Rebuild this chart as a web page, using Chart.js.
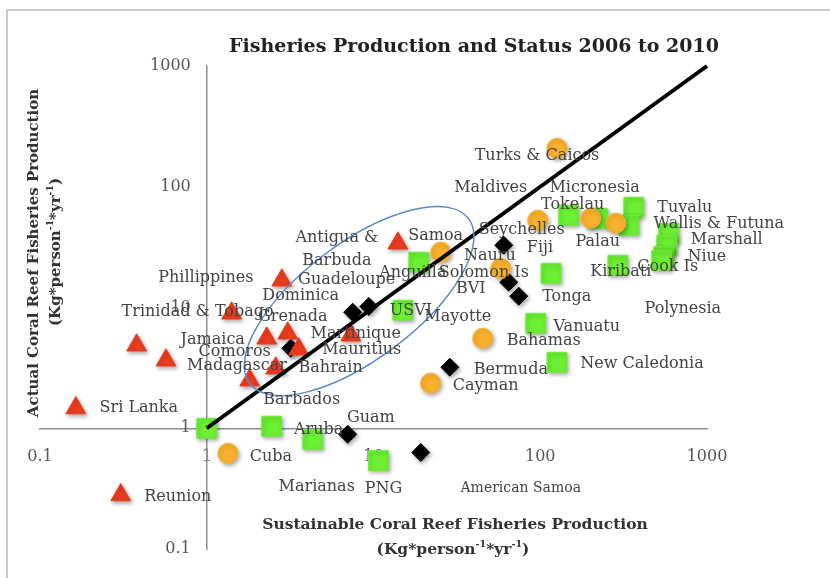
<!DOCTYPE html>
<html>
<head>
<meta charset="utf-8">
<title>Fisheries Production and Status 2006 to 2010</title>
<script src="https://cdn.jsdelivr.net/npm/chart.js@4.4.1/dist/chart.umd.min.js"></script>
<style>
  html, body { margin: 0; padding: 0; background: #fff; overflow: hidden; }
  #frame {
    position: absolute; left: 6px; top: 9px; width: 840px; height: 600px;
    border-left: 2px solid #cacaca; border-top: 2px solid #cacaca;
  }
  #wrap { position: absolute; left: 0; top: 0; width: 830px; height: 578px; }
</style>
</head>
<body>
<div id="frame"></div>
<div id="wrap"><canvas id="fisheryChart" width="830" height="578"></canvas></div>
<script>
// Sustainable (x) vs actual (y) coral reef fisheries production, kg/person/yr
var redNames = ['Sri Lanka', 'Reunion', 'Comoros', 'Madagascar', 'Trinidad & Tobago', 'Phillippines',
    'Jamaica', 'Grenada', 'Dominica', 'Bahrain', 'Barbados', 'Martinique', 'Antigua &\nBarbuda'];
var redX = [0.164, 0.305, 0.38, 0.57, 1.41, 2.82, 2.29, 3.06, 3.56, 2.59, 1.81, 7.31, 14.0];
var redY = [1.47, 0.28, 4.87, 3.66, 8.96, 16.8, 5.56, 6.12, 4.51, 3.14, 2.50, 5.89, 34.0];

var orangeNames = ['Turks & Caicos', 'Maldives', 'Palau', 'Nauru', 'Samoa', 'Solomon Is',
    'Bahamas', 'Cayman', 'Cuba'];
var orangeX = [126, 96.6, 201, 284, 25.3, 58.0, 45.2, 22.0, 1.34];
var orangeY = [208, 52.8, 54.8, 49.9, 28.7, 21.1, 5.56, 2.36, 0.62];

var greenNames = ['Tokelau', 'Micronesia', 'Tuvalu', 'Wallis & Futuna', 'Marshall', 'Polynesia',
    'Niue', 'Cook Is', 'Kiribati', 'Fiji', 'Vanuatu', 'New Caledonia', 'USVI', 'Anguilla', '',
    'Aruba', 'Marianas', 'PNG'];
var greenX = [148, 221, 364, 340, 590, 574, 551, 535, 292, 116, 94.0, 126, 15.0, 18.7, 1.0, 2.45, 4.32, 10.7];
var greenY = [58.1, 54.8, 67.6, 48.0, 41.2, 32.8, 26.6, 24.6, 22.4, 19.2, 7.41, 3.52, 9.49, 23.7, 1.0, 1.04, 0.81, 0.54];

var blackNames = ['Mauritius', 'Guadeloupe', 'Mayotte', 'Bermuda', 'Guam', 'American Samoa',
    'Seychelles', 'BVI', 'Tonga'];
var blackX = [3.19, 7.5, 9.37, 28.7, 7.01, 19.2, 60.4, 64.7, 74.3];
var blackY = [4.60, 9.14, 10.2, 3.20, 0.89, 0.63, 32.8, 16.2, 12.4];

// 1:1 line, actual = sustainable
var parityX = [1, 1000];
var parityY = [1, 1000];

var tickValues = [0.1, 1, 10, 100, 1000];
var tickLabels = ['0.1', '1', '10', '100', '1000'];

// centre of the highlighted cluster (data units)
var clusterCentre = [8.2, 11.3];

// where each name sits relative to its marker, in px
var labelOffsets = {
    'Sri Lanka': [63, 0], 'Reunion': [57, 2], 'Comoros': [98, 7], 'Madagascar': [71, 6],
    'Trinidad & Tobago': [-34, -1], 'Phillippines': [-76, -2], 'Jamaica': [-54, 2],
    'Grenada': [5, -16], 'Dominica': [2, -53], 'Bahrain': [55, 0], 'Barbados': [52, 20],
    'Martinique': [5, -1], 'Antigua &\nBarbuda': [-61, 6],
    'Turks & Caicos': [-20, 7], 'Maldives': [-47, -32], 'Palau': [7, 24], 'Nauru': [-126, 33],
    'Samoa': [-5, -16], 'Solomon Is': [-17, 5], 'Bahamas': [61, 3], 'Cayman': [55, 3], 'Cuba': [43, 4],
    'Tokelau': [4, -10], 'Micronesia': [-3, -30], 'Tuvalu': [51, 1], 'Wallis & Futuna': [90, -1],
    'Marshall': [58, 7], 'Polynesia': [16, 64], 'Niue': [43, 1], 'Cook Is': [6, 7], 'Kiribati': [3, 7],
    'Fiji': [-11, -25], 'Vanuatu': [51, 4], 'New Caledonia': [85, 2], 'USVI': [8, 1],
    'Anguilla': [-6, 11], 'Aruba': [47, 4], 'Marianas': [4, 48], 'PNG': [5, 28],
    'Mauritius': [71, 2], 'Guadeloupe': [-6, -32], 'Mayotte': [89, 10], 'Bermuda': [61, 3],
    'Guam': [23, -17], 'American Samoa': [100, 36], 'Seychelles': [18, -15], 'BVI': [-38, 7],
    'Tonga': [48, 1]
};
var smallLabels = { 'American Samoa': true };

function points(xs, ys) {
    return xs.map(function (x, i) { return { x: x, y: ys[i] }; });
}

var SERIF = '"DejaVu Serif", "Liberation Serif", serif';

// draws text made of normal and superscript pieces, centred on x
function drawRuns(ctx, runs, x, y, size) {
    var total = 0;
    runs.forEach(function (r) {
        ctx.font = 'bold ' + (r.sup ? size * 0.62 : size) + 'px ' + SERIF;
        r.w = ctx.measureText(r.t).width;
        total += r.w;
    });
    var cx = x - total / 2;
    ctx.textAlign = 'left';
    runs.forEach(function (r) {
        ctx.font = 'bold ' + (r.sup ? size * 0.62 : size) + 'px ' + SERIF;
        ctx.fillText(r.t, cx, r.sup ? y - size * 0.38 : y);
        cx += r.w;
    });
}

var unitRuns = [{ t: '(Kg*person' }, { t: '-1', sup: true }, { t: '*yr' }, { t: '-1', sup: true }, { t: ')' }];

var markerShadow = {
    id: 'markerShadow',
    beforeDatasetDraw: function (chart, args) {
        if (!chart.data.datasets[args.index].names) return;
        var ctx = chart.ctx;
        ctx.save();
        ctx.shadowColor = 'rgba(0, 0, 0, 0.35)';
        ctx.shadowBlur = 4;
        ctx.shadowOffsetX = 1.5;
        ctx.shadowOffsetY = 2;
    },
    afterDatasetDraw: function (chart, args) {
        if (!chart.data.datasets[args.index].names) return;
        chart.ctx.restore();
    }
};

var annotations = {
    id: 'annotations',
    afterDatasetsDraw: function (chart) {
        var ctx = chart.ctx;
        var sx = chart.scales.x, sy = chart.scales.y;

        // ellipse around the cluster near the 1:1 line
        ctx.save();
        ctx.strokeStyle = '#5a8ac6';
        ctx.lineWidth = 1.5;
        ctx.beginPath();
        ctx.ellipse(sx.getPixelForValue(clusterCentre[0]), sy.getPixelForValue(clusterCentre[1]),
            137, 58, -37 * Math.PI / 180, 0, 2 * Math.PI);
        ctx.stroke();
        ctx.restore();

        // country names
        ctx.save();
        ctx.fillStyle = '#434343';
        ctx.textAlign = 'center';
        ctx.textBaseline = 'middle';
        chart.data.datasets.forEach(function (ds, i) {
            if (!ds.names) return;
            chart.getDatasetMeta(i).data.forEach(function (pt, j) {
                var name = ds.names[j];
                if (!name) return;
                var off = labelOffsets[name] || [0, -18];
                ctx.font = (smallLabels[name] ? 14 : 16) + 'px ' + SERIF;
                var lines = name.split('\n');
                lines.forEach(function (line, k) {
                    ctx.fillText(line, pt.x + off[0], pt.y + off[1] + (k - (lines.length - 1) / 2) * 23);
                });
            });
        });
        ctx.restore();
    },
    afterDraw: function (chart) {
        var ctx = chart.ctx;
        ctx.save();
        ctx.textBaseline = 'middle';
        ctx.fillStyle = '#222';
        ctx.textAlign = 'center';
        ctx.font = 'bold 19px ' + SERIF;
        ctx.fillText('Fisheries Production and Status 2006 to 2010', 474, 47);

        ctx.fillStyle = '#333';
        drawRuns(ctx, [{ t: 'Sustainable Coral Reef Fisheries Production' }], 455, 525, 15.5);
        drawRuns(ctx, unitRuns, 453, 550, 15.5);

        ctx.save();
        ctx.translate(34, 253);
        ctx.rotate(-Math.PI / 2);
        drawRuns(ctx, [{ t: 'Actual Coral Reef Fisheries Production' }], 0, 0, 15);
        ctx.restore();
        ctx.save();
        ctx.translate(56, 252);
        ctx.rotate(-Math.PI / 2);
        drawRuns(ctx, unitRuns, 0, 0, 15);
        ctx.restore();
        ctx.restore();
    }
};

function fixedTicks(scale) {
    scale.ticks = tickValues.map(function (v) { return { value: v }; });
}

var tickFont = { family: SERIF, size: 16 };

var ctx = document.getElementById('fisheryChart').getContext('2d');
var fisheryChart = new Chart(ctx, {
    type: 'scatter',
    data: {
        datasets: [{
            data: points(parityX, parityY),
            showLine: true,
            borderColor: '#000',
            borderWidth: 4,
            pointRadius: 0,
            clip: false
        }, {
            names: redNames,
            data: points(redX, redY),
            pointStyle: 'triangle',
            pointRadius: 11.5,
            backgroundColor: '#ec3d1f',
            borderColor: '#ec3d1f',
            borderWidth: 1
        }, {
            names: orangeNames,
            data: points(orangeX, orangeY),
            pointStyle: 'circle',
            pointRadius: 10,
            backgroundColor: '#f9b12d',
            borderColor: '#f9b12d',
            borderWidth: 1
        }, {
            names: greenNames,
            data: points(greenX, greenY),
            pointStyle: 'rect',
            pointRadius: 14,
            backgroundColor: '#6cf032',
            borderColor: '#6cf032',
            borderWidth: 1
        }, {
            names: blackNames,
            data: points(blackX, blackY),
            pointStyle: 'rectRot',
            pointRadius: 9,
            backgroundColor: '#000',
            borderColor: '#000',
            borderWidth: 1
        }]
    },
    options: {
        responsive: false,
        animation: false,
        layout: {
            padding: { left: 40, right: 123, top: 66, bottom: 29 }
        },
        scales: {
            x: {
                type: 'logarithmic',
                min: 0.1,
                max: 1000,
                position: { y: 1 },
                grid: { display: false, drawTicks: false },
                border: { color: '#8e8e8e', width: 1.5 },
                ticks: {
                    font: tickFont,
                    color: '#555',
                    padding: 19,
                    maxRotation: 0,
                    autoSkip: false,
                    callback: function (v) { return tickLabels[tickValues.indexOf(v)]; }
                },
                afterBuildTicks: fixedTicks,
                afterFit: function (scale) { scale.height = 0; }
            },
            y: {
                type: 'logarithmic',
                min: 0.1,
                max: 1000,
                position: { x: 1 },
                grid: { display: false, drawTicks: false },
                border: { color: '#8e8e8e', width: 1.5 },
                ticks: {
                    font: tickFont,
                    color: '#555',
                    autoSkip: false,
                    callback: function (v) { return tickLabels[tickValues.indexOf(v)] + '\u2003'; }
                },
                afterBuildTicks: fixedTicks,
                afterFit: function (scale) { scale.width = 0; }
            }
        },
        plugins: {
            legend: { display: false },
            tooltip: { enabled: false }
        }
    },
    plugins: [markerShadow, annotations]
});
</script>
</body>
</html>
